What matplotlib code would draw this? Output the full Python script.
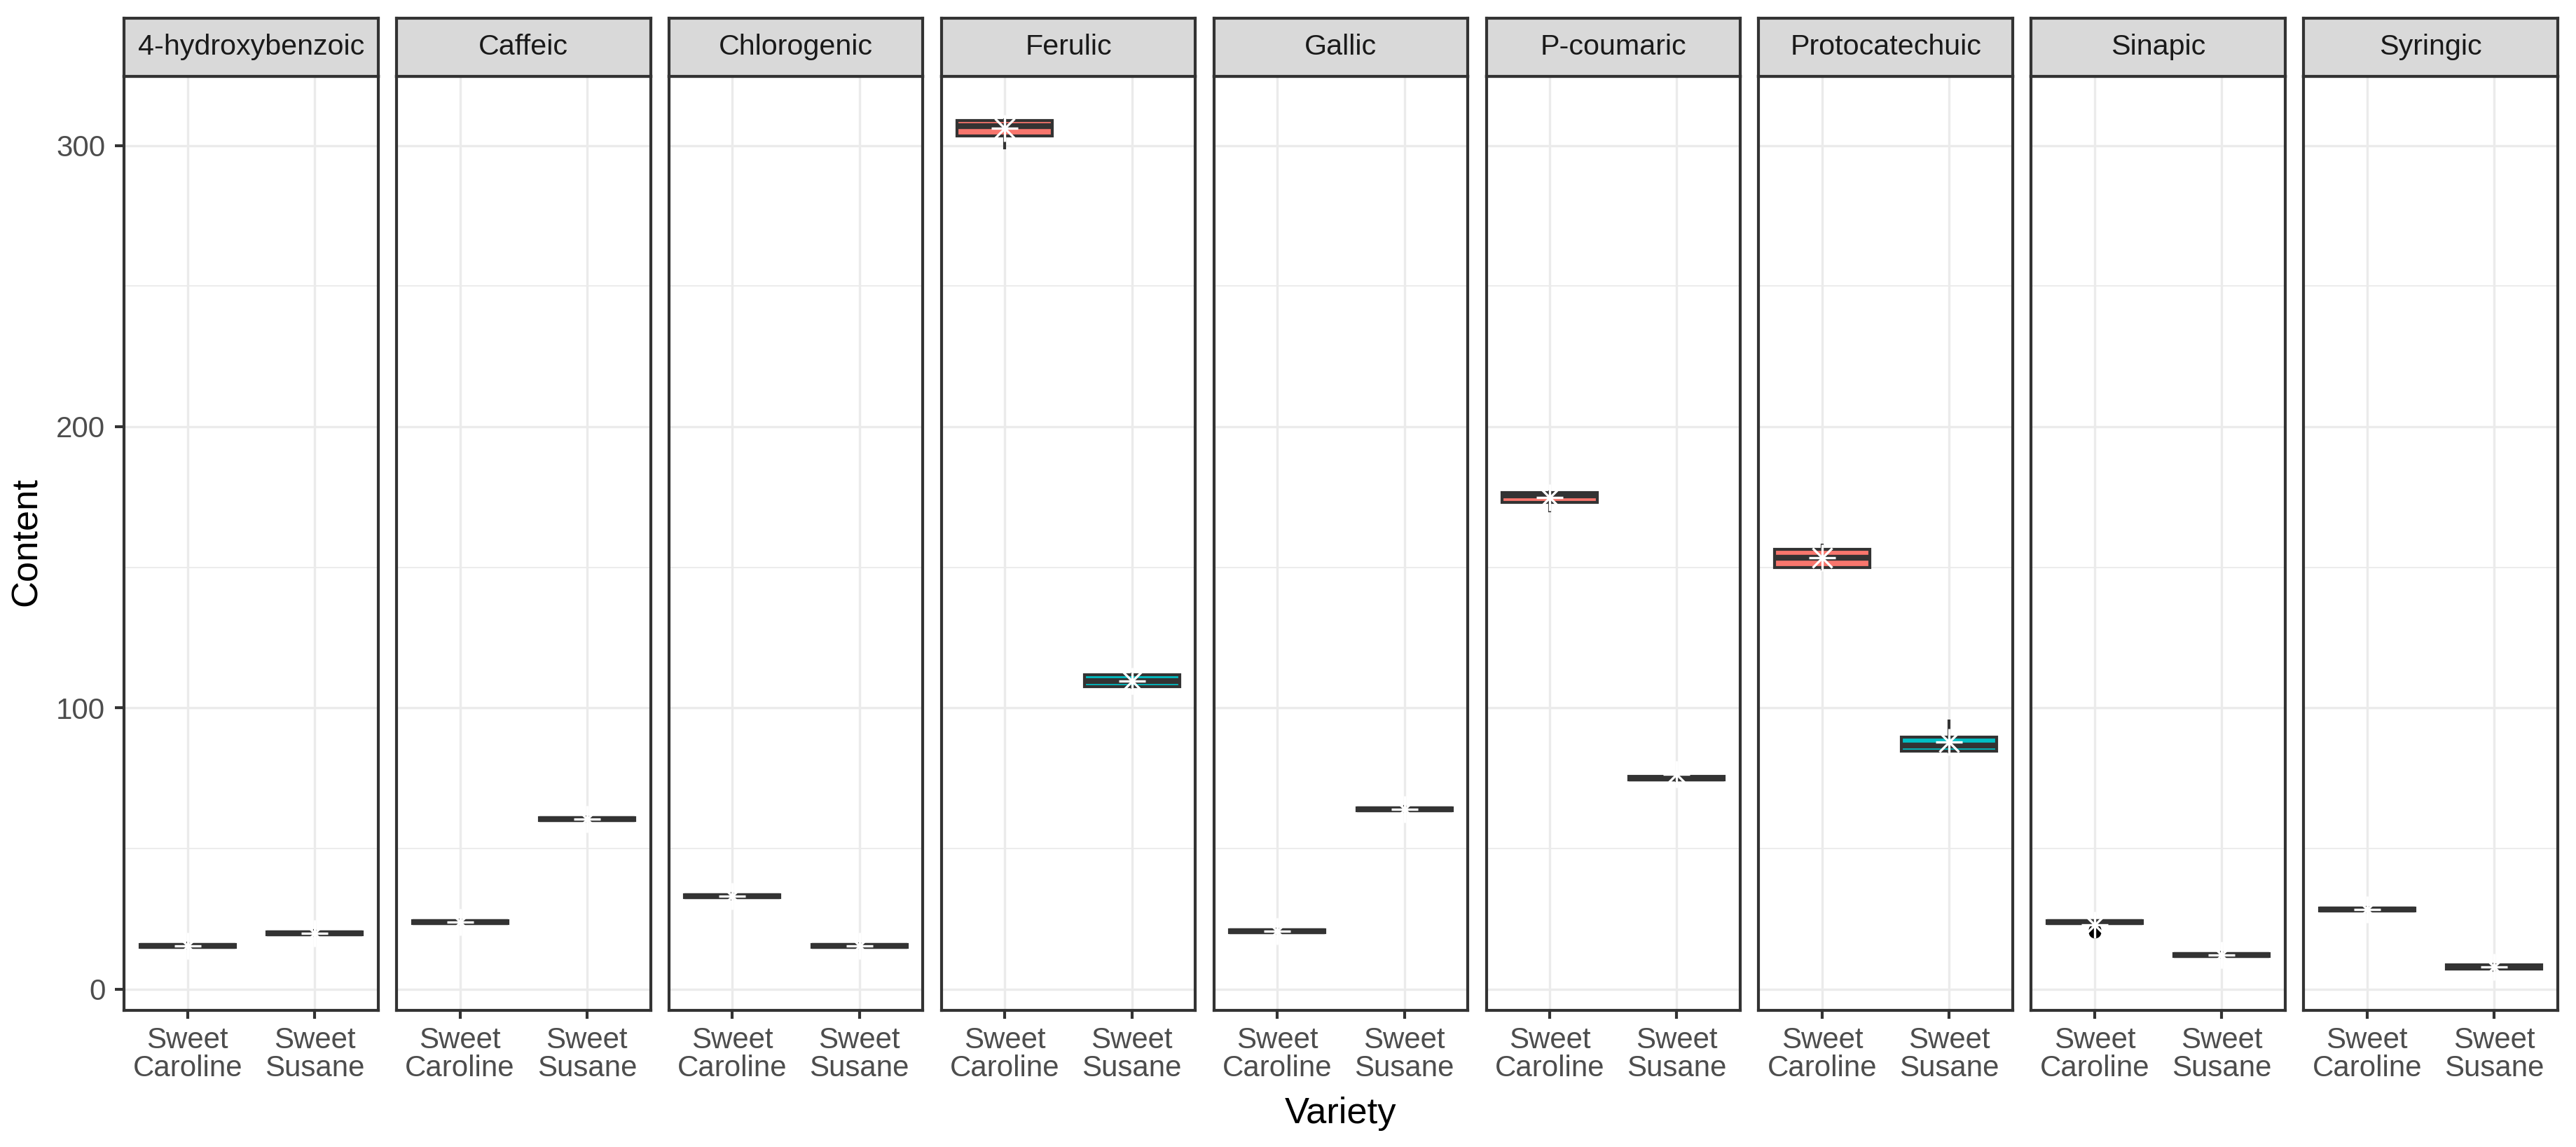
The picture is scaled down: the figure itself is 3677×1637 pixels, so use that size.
import matplotlib
matplotlib.use("Agg")
import matplotlib.pyplot as plt

plt.rcParams['font.family'] = ['Liberation Sans', 'DejaVu Sans']

acids = ['4-hydroxybenzoic', 'Caffeic', 'Chlorogenic', 'Ferulic', 'Gallic',
         'P-coumaric', 'Protocatechuic', 'Sinapic', 'Syringic']
varieties = ['Sweet\nCaroline', 'Sweet\nSusane']

# Sweet Caroline
car_med = [15.4, 23.8, 33.0, 307.0, 20.5, 175.6, 153.3, 23.7, 28.3]
car_q1 = [14.9, 23.3, 32.4, 303.4, 20.0, 173.2, 149.8, 23.2, 27.8]
car_q3 = [15.9, 24.3, 33.6, 309.0, 21.0, 176.6, 156.4, 24.2, 28.8]
car_lo = [14.6, 23.0, 32.0, 299.3, 19.7, 170.0, 149.5, 22.6, 27.5]
car_hi = [16.2, 24.6, 34.0, 309.2, 21.3, 176.8, 158.0, 24.4, 29.1]
car_mean = [15.4, 23.7, 33.0, 306.2, 20.5, 174.8, 153.3, 22.9, 28.3]
car_out = [[], [], [], [], [], [], [], [20.2, 21.0], []]

# Sweet Susane
sus_med = [19.9, 60.5, 15.3, 109.6, 64.0, 75.0, 86.6, 12.2, 7.8]
sus_q1 = [19.4, 60.0, 14.8, 107.5, 63.5, 74.4, 84.5, 11.7, 7.0]
sus_q3 = [20.4, 61.0, 15.8, 111.7, 64.5, 75.6, 89.5, 12.7, 8.6]
sus_lo = [19.1, 59.7, 14.5, 107.3, 63.2, 74.1, 84.3, 11.4, 6.7]
sus_hi = [20.7, 61.3, 16.1, 111.9, 64.8, 76.0, 95.4, 13.0, 8.9]
sus_mean = [19.9, 60.5, 15.3, 109.5, 64.0, 76.3, 87.8, 12.2, 7.8]
sus_out = [[], [], [], [], [], [], [], [], []]

fills = ['#F8766D', '#00BFC4']
dark = '#333333'

W, H = 3677, 1637
fig = plt.figure(figsize=(W / 300, H / 300), dpi=300)

left0 = 177 / W
pw = 362.6 / W
stride = (362.6 + 26.3) / W
bottom = 1 - 1442 / H
top = 1 - 109 / H
strip_h = (109 - 25.7) / H

for i, acid in enumerate(acids):
    ax = fig.add_axes([left0 + i * stride, bottom, pw, top - bottom])
    stats = [
        dict(med=car_med[i], q1=car_q1[i], q3=car_q3[i],
             whislo=car_lo[i], whishi=car_hi[i], fliers=car_out[i]),
        dict(med=sus_med[i], q1=sus_q1[i], q3=sus_q3[i],
             whislo=sus_lo[i], whishi=sus_hi[i], fliers=sus_out[i]),
    ]
    bp = ax.bxp(stats, positions=[1, 2], widths=0.75, patch_artist=True,
                showcaps=False, showfliers=True,
                boxprops=dict(linewidth=1.0, edgecolor=dark),
                medianprops=dict(color=dark, linewidth=2.0),
                whiskerprops=dict(color=dark, linewidth=1.0),
                flierprops=dict(marker='o', markerfacecolor='black',
                                markeredgecolor='black', markersize=3.3))
    for patch, c in zip(bp['boxes'], fills):
        patch.set_facecolor(c)
    means = [car_mean[i], sus_mean[i]]
    # ggplot shape 8: a plus over a cross
    ax.plot([1, 2], means, ls='none', marker='+', ms=9, mew=0.8,
            color='white', zorder=5)
    ax.plot([1, 2], means, ls='none', marker='x', ms=6.5, mew=0.8,
            color='white', zorder=5)

    ax.set_xlim(0.5, 2.5)
    ax.set_ylim(-7.6, 324.6)
    ax.set_xticks([1, 2])
    ax.set_xticklabels(varieties, linespacing=1.0)
    ax.set_yticks([0, 100, 200, 300])
    ax.set_yticks([50, 150, 250], minor=True)
    ax.grid(True, which='major', color='#EBEBEB', lw=0.8, zorder=0)
    ax.grid(True, which='minor', axis='y', color='#EBEBEB', lw=0.45, zorder=0)
    ax.set_axisbelow(True)
    ax.tick_params(axis='x', length=2.9, width=1.0, color=dark,
                   labelcolor='#4D4D4D', labelsize=10.1, pad=2.5)
    ax.tick_params(axis='y', which='minor', length=0)
    if i == 0:
        ax.tick_params(axis='y', length=3.2, width=1.0, color=dark,
                       labelcolor='#4D4D4D', labelsize=10.1, pad=3.2)
    else:
        ax.tick_params(axis='y', length=0, labelleft=False)
    for s in ax.spines.values():
        s.set_color(dark)
        s.set_linewidth(1.0)

    sx = fig.add_axes([left0 + i * stride, top, pw, strip_h])
    sx.set_facecolor('#D9D9D9')
    sx.set_xticks([])
    sx.set_yticks([])
    for s in sx.spines.values():
        s.set_color(dark)
        s.set_linewidth(1.0)
    sx.text(0.5, 0.5, acid, ha='center', va='center', fontsize=9.9,
            color='#1A1A1A', transform=sx.transAxes)

fig.text(1914 / W, 1 - 1590 / H, 'Variety', ha='center', va='center',
         fontsize=12.6, color='black')
fig.text(38 / W, 1 - 773 / H, 'Content', ha='center', va='center',
         rotation=90, fontsize=12.6, color='black')

fig.savefig('out.png', dpi=300, facecolor='white')
